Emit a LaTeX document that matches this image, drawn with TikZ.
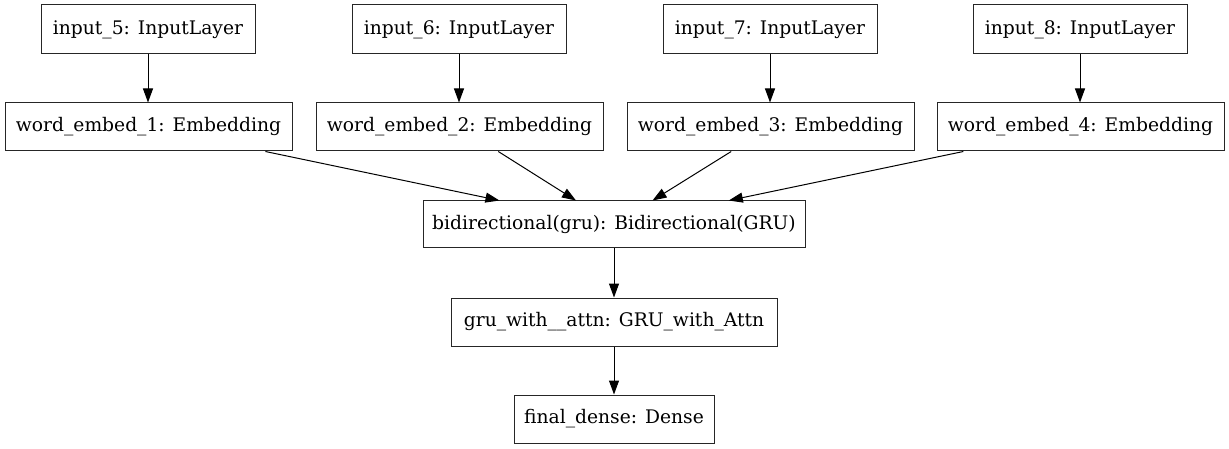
\documentclass[tikz,border=0pt]{standalone}
\usepackage{fontspec}
\setmainfont{DejaVu Serif}
\usetikzlibrary{arrows.meta}
\begin{document}
\begin{tikzpicture}[x=1pt,y=-1pt,
  layer/.style={draw=black!85, line width=1pt, inner sep=0pt, font=\fontsize{18.7}{22}\selectfont, text=black},
  inbox/.style={layer, minimum width=214pt, minimum height=49pt},
  embbox/.style={layer, minimum width=287pt, minimum height=48pt},
  conn/.style={draw=black, line width=1pt, -{Triangle[length=14pt,width=10pt]}}]
\useasboundingbox (0,0) rectangle (1229,449);
\node[inbox] (in5) at (148,29.5) {input\_5: InputLayer};
\node[inbox] (in6) at (459,29.5) {input\_6: InputLayer};
\node[inbox] (in7) at (770,29.5) {input\_7: InputLayer};
\node[inbox] (in8) at (1080,29.5) {input\_8: InputLayer};
\node[embbox] (we1) at (148.5,127) {word\_embed\_1: Embedding};
\node[embbox] (we2) at (459.5,127) {word\_embed\_2: Embedding};
\node[embbox] (we3) at (770.5,127) {word\_embed\_3: Embedding};
\node[embbox] (we4) at (1080.5,127) {word\_embed\_4: Embedding};
\node[layer, minimum width=382pt, minimum height=47pt] (bi) at (614,224.5) {bidirectional(gru): Bidirectional(GRU)};
\node[layer, minimum width=326pt, minimum height=48pt] (gru) at (614,322) {gru\_with\_\_attn: GRU\_with\_Attn};
\node[layer, minimum width=200pt, minimum height=48pt] (fd) at (614,419) {final\_dense: Dense};
\draw[conn] (in5) -- (we1.north -| in5);
\draw[conn] (in6) -- (we2.north -| in6);
\draw[conn] (in7) -- (we3.north -| in7);
\draw[conn] (in8) -- (we4.north -| in8);
\draw[conn] (we1) -- (bi);
\draw[conn] (we2) -- (bi);
\draw[conn] (we3) -- (bi);
\draw[conn] (we4) -- (bi);
\draw[conn] (bi) -- (gru);
\draw[conn] (gru) -- (fd);
\end{tikzpicture}
\end{document}
